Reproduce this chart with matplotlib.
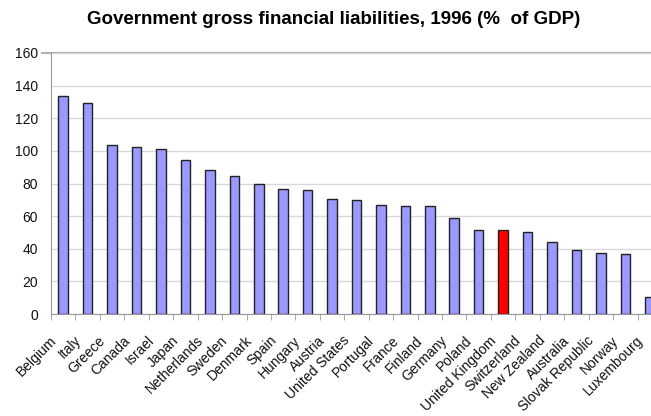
import numpy as np
import matplotlib
matplotlib.use('Agg')
import matplotlib.pyplot as plt
import matplotlib.transforms as mtransforms

plt.rcParams['font.family'] = ['Liberation Sans', 'DejaVu Sans']

countries = ['Belgium', 'Italy', 'Greece', 'Canada', 'Israel', 'Japan', 'Netherlands',
             'Sweden', 'Denmark', 'Spain', 'Hungary', 'Austria', 'United States',
             'Portugal', 'France', 'Finland', 'Germany', 'Poland', 'United Kingdom',
             'Switzerland', 'New Zealand', 'Australia', 'Slovak Republic', 'Norway',
             'Luxembourg']
liabilities = [133.8, 129.5, 103.7, 102.3, 100.9, 94.1, 88.4, 84.7, 79.6, 76.5, 75.9,
               70.8, 70.0, 66.9, 66.3, 66.5, 58.9, 51.6, 51.6, 50.1, 44.4, 39.1, 37.6,
               36.8, 10.4]
highlight = 'United Kingdom'


def main():
    fig = plt.figure(figsize=(6.51, 4.16), dpi=100)
    # the plot area runs a little past the right edge of the figure
    ax = fig.add_axes([51 / 651, 1 - 314 / 416, 611 / 651, 261 / 416])

    x = np.arange(len(countries))
    colors = ['#ff0000' if c == highlight else '#9999ff' for c in countries]
    ax.bar(x, liabilities, width=0.39, color=colors, edgecolor='#222222',
           linewidth=1.0, zorder=3)

    ax.set_xlim(-0.5, len(countries) - 0.5)
    ax.set_ylim(0, 160)
    ax.set_yticks(np.arange(0, 161, 20))
    ax.yaxis.grid(True, color='#d9d9d9', linewidth=1.0, zorder=0)
    ax.tick_params(axis='y', length=0, labelsize=10, pad=9.5, colors='#111111')

    # category boundaries carry the tick marks, labels sit under the bars
    ax.set_xticks(x)
    ax.set_xticks(np.arange(-0.5, len(countries), 1), minor=True)
    ax.tick_params(axis='x', which='major', length=0, pad=14)
    ax.tick_params(axis='x', which='minor', length=4, color='#999999')
    ax.set_xticklabels(countries, rotation=45, ha='right', va='top',
                       rotation_mode='anchor', fontsize=10, color='#111111')
    shift = mtransforms.ScaledTranslation(-14 / 100, 0, fig.dpi_scale_trans)
    for lbl in ax.get_xticklabels():
        lbl.set_transform(lbl.get_transform() + shift)

    for side in ['top', 'right']:
        ax.spines[side].set_visible(False)
    ax.plot([-9 / 611, 1], [1, 1], transform=ax.transAxes, color='#b0b0b0',
            linewidth=1.5, clip_on=False, zorder=1)
    ax.spines['left'].set_color('#999999')
    ax.spines['bottom'].set_color('#999999')

    fig.text(0.513, 1 - 19 / 416, 'Government gross financial liabilities, 1996 (%  of GDP)',
             ha='center', va='center', fontsize=13.5, fontweight='bold')

    fig.savefig('out.png', dpi=100)


if __name__ == '__main__':
    main()
